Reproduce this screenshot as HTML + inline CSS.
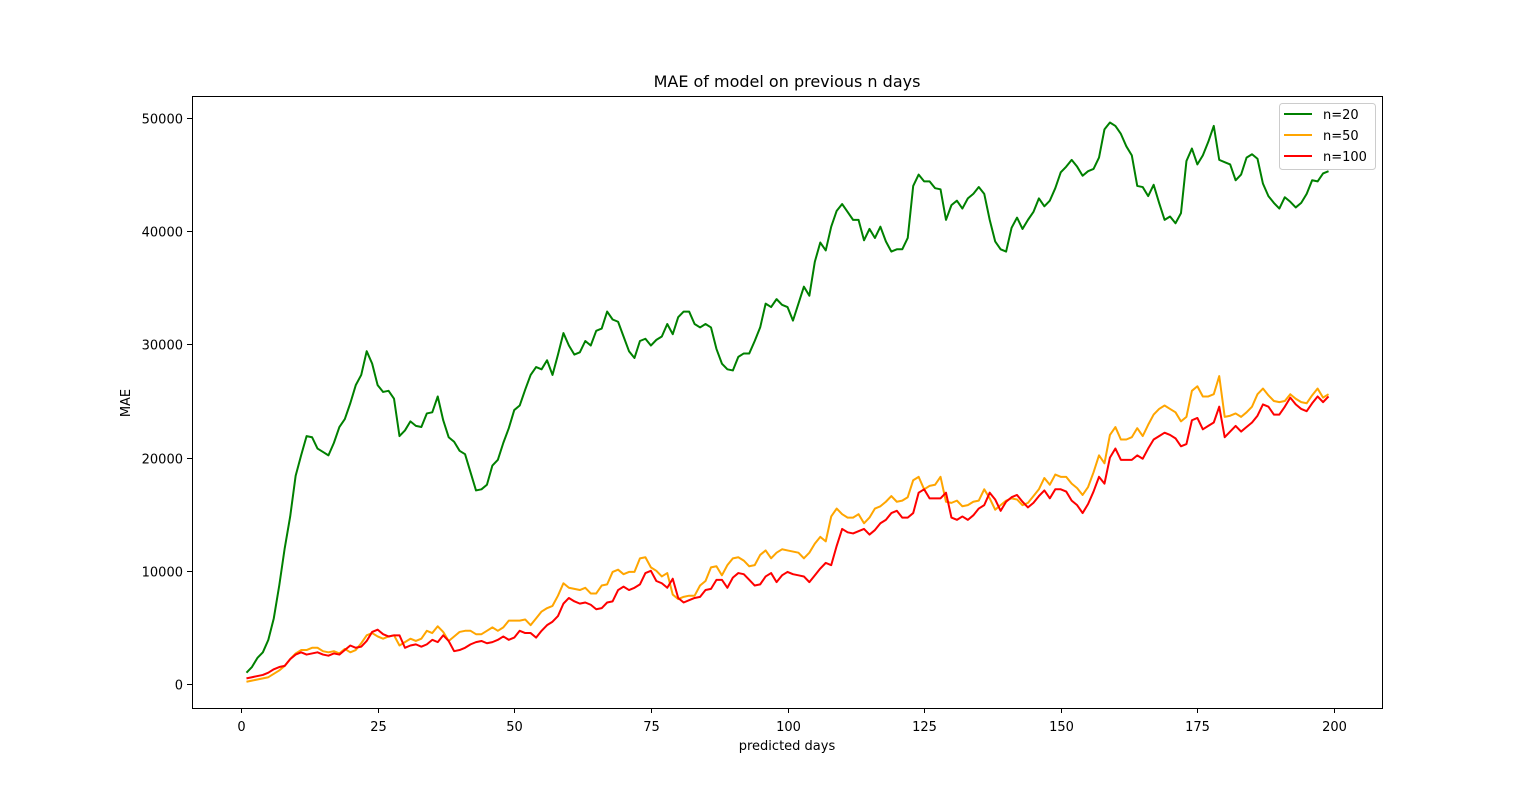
<!DOCTYPE html>
<html><head><meta charset="utf-8"><style>
html,body{margin:0;padding:0;background:#fff}
svg{display:block;font-family:"DejaVu Sans","Liberation Sans",sans-serif}
</style></head><body>
<svg id="chart" width="1536" height="797" viewBox="0 0 1536 797" xmlns="http://www.w3.org/2000/svg">
<rect x="0" y="0" width="1536" height="797" fill="#fff"/>
<text x="787" y="87" font-size="16" text-anchor="middle">MAE of model on previous n days</text>
<g id="ticks"></g>
<g id="series"></g>
<rect x="192.5" y="96.5" width="1190" height="612" fill="none" stroke="#000" stroke-width="1"/>
<text x="787" y="750" font-size="13" text-anchor="middle">predicted days</text>
<text x="130" y="403" font-size="13" text-anchor="middle" transform="rotate(-90 130 403)">MAE</text>
<g>
<rect x="1279.5" y="103.5" width="96" height="66" rx="3" fill="#fff" fill-opacity="0.8" stroke="#ccc"/>
<line x1="1284" y1="114" x2="1312" y2="114" stroke="green" stroke-width="2"/>
<text x="1323" y="119" font-size="13">n=20</text>
<line x1="1284" y1="135" x2="1312" y2="135" stroke="orange" stroke-width="2"/>
<text x="1323" y="140" font-size="13">n=50</text>
<line x1="1284" y1="156" x2="1312" y2="156" stroke="red" stroke-width="2"/>
<text x="1323" y="161" font-size="13">n=100</text>
</g>
</svg>
<script>
const xTicks = [0,25,50,75,100,125,150,175,200];
const yTicks = [0,10000,20000,30000,40000,50000];
const n20 = [1000,1500,2300,2800,3900,5800,8700,12000,14800,18400,20200,21900,21800,20800,20500,20200,21300,22700,23400,24800,26400,27300,29400,28300,26400,25800,25900,25200,21900,22400,23200,22800,22700,23900,24000,25400,23300,21800,21400,20600,20300,18700,17100,17200,17600,19300,19800,21300,22600,24200,24600,26000,27300,28000,27800,28600,27300,29100,31000,29900,29100,29300,30300,29900,31200,31400,32900,32200,32000,30700,29400,28800,30300,30500,29900,30400,30700,31800,30900,32400,32900,32900,31800,31500,31800,31500,29600,28300,27800,27700,28900,29200,29200,30300,31500,33600,33300,34000,33500,33300,32100,33600,35100,34300,37300,39000,38300,40400,41800,42400,41700,41000,41000,39200,40200,39400,40400,39100,38200,38400,38400,39400,44000,45000,44400,44400,43800,43700,41000,42300,42700,42000,42900,43300,43900,43300,41000,39100,38400,38200,40300,41200,40200,41000,41700,42900,42200,42700,43800,45200,45700,46300,45700,44900,45300,45500,46500,49000,49600,49300,48600,47500,46700,44000,43900,43100,44100,42500,41000,41300,40700,41600,46200,47300,45900,46700,47900,49300,46300,46100,45900,44500,45000,46500,46800,46400,44200,43100,42500,42000,43000,42600,42100,42500,43300,44500,44400,45100,45300];
const n50 = [200,300,400,500,600,900,1200,1600,2200,2700,3000,3000,3200,3200,2900,2800,2900,2700,3100,2800,3000,3600,4300,4500,4200,4000,4200,4300,3400,3700,4000,3800,4000,4700,4500,5100,4600,3800,4200,4600,4700,4700,4400,4400,4700,5000,4700,5000,5600,5600,5600,5700,5200,5800,6400,6700,6900,7800,8900,8500,8400,8300,8500,8000,8000,8700,8800,9900,10100,9700,9900,9900,11100,11200,10300,10000,9500,9800,7900,7500,7700,7800,7800,8700,9100,10300,10400,9600,10500,11100,11200,10900,10400,10500,11400,11800,11100,11600,11900,11800,11700,11600,11100,11600,12400,13000,12600,14800,15500,15000,14700,14700,15000,14200,14700,15500,15700,16100,16600,16100,16200,16500,18000,18300,17200,17500,17600,18300,16100,16000,16200,15700,15800,16100,16200,17200,16400,15400,15800,16200,16400,16300,15800,16000,16600,17200,18200,17600,18500,18300,18300,17700,17300,16700,17400,18700,20200,19500,22000,22700,21600,21600,21800,22600,21900,22900,23800,24300,24600,24300,24000,23200,23600,25900,26300,25400,25400,25600,27200,23600,23700,23900,23600,24000,24500,25600,26100,25500,25000,24900,25000,25600,25200,24900,24800,25500,26100,25300,25600];
const n100 = [500,600,700,800,1000,1300,1500,1600,2200,2600,2800,2600,2700,2800,2600,2500,2700,2600,3000,3400,3200,3300,3800,4600,4800,4400,4200,4300,4300,3200,3400,3500,3300,3500,3900,3700,4300,3800,2900,3000,3200,3500,3700,3800,3600,3700,3900,4200,3900,4100,4700,4500,4500,4100,4700,5200,5500,6000,7100,7600,7300,7100,7200,7000,6600,6700,7200,7300,8300,8600,8300,8500,8800,9800,10000,9100,8900,8500,9300,7600,7200,7400,7600,7700,8300,8400,9200,9200,8500,9400,9800,9700,9200,8700,8800,9500,9800,9000,9600,9900,9700,9600,9500,9000,9600,10200,10700,10500,12200,13700,13400,13300,13500,13700,13200,13600,14200,14500,15100,15300,14700,14700,15100,16900,17200,16400,16400,16400,16900,14700,14500,14800,14500,14900,15500,15800,16900,16300,15300,16100,16500,16700,16100,15600,16000,16600,17100,16400,17200,17200,17000,16200,15800,15100,15900,17000,18300,17700,20000,20800,19800,19800,19800,20200,19900,20800,21600,21900,22200,22000,21700,21000,21200,23300,23500,22500,22800,23100,24500,21800,22300,22800,22300,22700,23100,23700,24700,24500,23800,23800,24500,25300,24700,24300,24100,24800,25400,24900,25400];

const NS = 'http://www.w3.org/2000/svg';
const sx = d => 241 + d * (1334 - 241) / 200;
const sy = v => 684 - v * (684 - 118) / 50000;
const tg = document.getElementById('ticks');
function mk(tag, attrs, parent) {
  const e = document.createElementNS(NS, tag);
  for (const k in attrs) e.setAttribute(k, attrs[k]);
  parent.appendChild(e);
  return e;
}
xTicks.forEach(t => {
  const x = Math.round(sx(t)) + 0.5;
  const l = mk('line', {x1: x, x2: x, y1: 708, y2: 713, stroke: '#000'}, tg);
  
  
  const tx = mk('text', {x: x, y: 731, 'font-size': 13, 'text-anchor': 'middle'}, tg);
  
  
  tx.textContent = t;
});
yTicks.forEach(t => {
  const y = Math.round(sy(t)) + 0.5;
  const l = mk('line', {x1: 187, x2: 192, y1: y, y2: y, stroke: '#000'}, tg);
  
  
  const tx = mk('text', {x: 183, y: y + 5, 'font-size': 13, 'text-anchor': 'end'}, tg);
  
  
  tx.textContent = t;
});
const sg = document.getElementById('series');
[[n20, 'green', 'line-n20'], [n50, 'orange', 'line-n50'], [n100, 'red', 'line-n100']].forEach(([arr, c, name]) => {
  const d = arr.map((v, i) => (i ? 'L' : 'M') + sx(i + 1).toFixed(2) + ' ' + sy(v).toFixed(2)).join(' ');
  const p = mk('path', {d: d, fill: 'none', stroke: c, 'stroke-width': 2, 'stroke-linejoin': 'round'}, sg);
  
  
});
</script>
</body></html>
